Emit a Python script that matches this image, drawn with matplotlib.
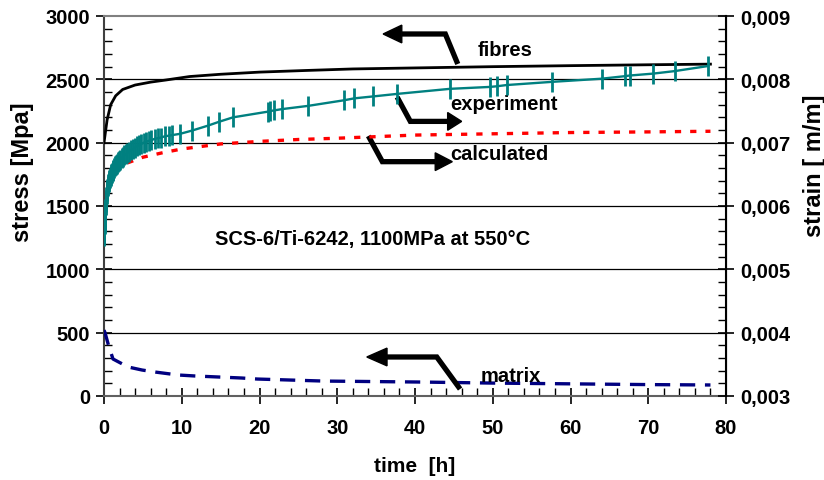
import matplotlib
matplotlib.use("Agg")
import matplotlib.pyplot as plt
from matplotlib.patches import Polygon
from matplotlib.ticker import MultipleLocator, FuncFormatter

plt.rcParams['font.family'] = ['Liberation Sans', 'DejaVu Sans']
plt.rcParams['font.weight'] = 'bold'
plt.rcParams['lines.scale_dashes'] = False

# ---- data ----
fibres_t = [0, 0.4, 0.86, 1.5, 2.4, 4, 6, 8, 11, 15, 20, 26, 32, 40, 50, 60, 70, 78]
fibres_s = [2000, 2180, 2300, 2370, 2420, 2455, 2478, 2495, 2522, 2540, 2557, 2570,
            2582, 2590, 2600, 2608, 2615, 2620]

matrix_t = [0, 0.13, 0.64, 1.16, 3.1, 4.9, 6.6, 9.5, 11.7, 17.7, 19.7, 28.2, 41, 50, 60, 70, 78]
matrix_s = [520, 500, 387, 292, 229, 205, 189, 166, 158, 142, 134, 118, 110, 102, 96, 90, 87]

exp_t = [0, 0.01, 0.02, 0.03, 0.045, 0.06, 0.08, 0.1, 0.12, 0.14, 0.165, 0.19, 0.22,
         0.25, 0.28, 0.32, 0.36, 0.4, 0.45, 0.5, 0.56, 0.62, 0.69, 0.76, 0.84, 0.92,
         1.0, 1.1, 1.2, 1.3, 1.42, 1.55, 1.68, 1.8, 1.95, 2.1, 2.28, 2.45, 2.62, 2.8,
         3.0, 3.2, 3.45, 3.7, 3.95, 4.2, 4.5, 4.8, 5.1, 5.4, 5.75, 6.1, 6.5, 6.9,
         7.3, 7.8, 8.3, 8.8,
         9.8, 11.3, 13.4, 14.8, 16.6, 21.1, 21.4, 21.9, 22.9, 26.2, 30.9, 32.2, 34.6,
         37.7, 44.5, 49.6, 50.5, 51.8, 57.6, 64.0, 67.0, 67.6, 70.6, 73.4, 77.7]
exp_strain = [0.00552, 0.00555, 0.00558, 0.00561, 0.00564, 0.00567, 0.00571, 0.00575,
              0.00580, 0.00585, 0.00590, 0.00596, 0.00601, 0.00606, 0.00610, 0.00615,
              0.00619, 0.00623, 0.00627, 0.00631, 0.00635, 0.00638, 0.00641, 0.00644,
              0.00647, 0.00650, 0.00652, 0.00655, 0.00657, 0.00660, 0.00663, 0.00665,
              0.00667, 0.00669, 0.00671, 0.00673, 0.00676, 0.00678, 0.00680, 0.00682,
              0.00684, 0.00686, 0.00688, 0.00690, 0.00692, 0.00694, 0.00696, 0.00698,
              0.00700, 0.00701, 0.00703, 0.00704, 0.00706, 0.00707, 0.00708, 0.00710,
              0.00711, 0.00712,
              0.00714, 0.00719, 0.00727,
              0.00733, 0.00740, 0.00749, 0.00750, 0.00751, 0.00753, 0.00758, 0.00767,
              0.00770, 0.00773, 0.00777, 0.00785, 0.00788, 0.00789, 0.00791, 0.00796,
              0.00801, 0.00805, 0.00806, 0.00809, 0.00813, 0.00821]

calc_t = [3.0, 5, 7.5, 10, 15, 20, 25, 30, 40, 50, 60, 70, 78]
calc_strain = [0.00668, 0.00677, 0.00684, 0.00690, 0.00698, 0.00702, 0.00705, 0.00707,
               0.00712, 0.00714, 0.00716, 0.00717, 0.00718]

x_ticks = [0, 10, 20, 30, 40, 50, 60, 70, 80]
stress_ticks = [0, 500, 1000, 1500, 2000, 2500, 3000]
strain_ticks = [0.003, 0.004, 0.005, 0.006, 0.007, 0.008, 0.009]

# ---- figure ----
fig = plt.figure(figsize=(8.24, 4.81), dpi=100)
ax = fig.add_axes([104/824, 1-397/481, (726-104)/824, (397-17)/481])
ax2 = ax.twinx()

ax.set_xlim(0, 80)
ax.set_ylim(0, 3000)
ax2.set_ylim(0.003, 0.009)

for y in stress_ticks[1:-1]:
    ax.axhline(y, color='black', lw=0.9, zorder=0.5)

ax.plot(fibres_t, fibres_s, color='black', lw=2.0, zorder=3)
ax.plot(matrix_t, matrix_s, color='#000080', lw=2.4, dashes=(11, 7), zorder=3)
ax2.plot(calc_t, calc_strain, color='#FF0000', lw=2.4, dashes=(4.5, 6.5), zorder=3)
ax2.plot(exp_t, exp_strain, color='#008080', lw=1.7, marker='|', ms=15, mew=2.0, zorder=4)

# arrows (annotation shapes in stress-axis data coords)
def arrow(pts, tip):
    xs = [p[0] for p in pts]
    ys = [p[1] for p in pts]
    ax.plot(xs, ys, color='black', lw=3.8, solid_capstyle='butt',
            solid_joinstyle='miter', zorder=5, clip_on=False)
    bx, by = pts[-1]
    W = 70
    head = Polygon([[tip[0], tip[1]], [bx, by + W], [bx, by - W]],
                   closed=True, color='black', zorder=5, clip_on=False)
    ax.add_patch(head)

arrow([(45.5, 2621), (43.9, 2858), (38.3, 2858)], (35.9, 2858))
arrow([(37.7, 2360), (39.4, 2168), (44.2, 2168)], (46.0, 2168))
arrow([(34.0, 2053), (35.8, 1850), (42.6, 1850)], (44.8, 1850))
arrow([(45.8, 55), (42.8, 308), (36.4, 308)], (33.8, 308))

fs = 14.5
ax.text(505/824, 1-50/481, 'fibres', transform=fig.transFigure, ha='center', va='center', fontsize=fs, fontweight='bold')
ax.text(450/824, 1-104/481, 'experiment', transform=fig.transFigure, ha='left', va='center', fontsize=fs, fontweight='bold')
ax.text(450/824, 1-154/481, 'calculated', transform=fig.transFigure, ha='left', va='center', fontsize=fs, fontweight='bold')
ax.text(481/824, 1-376/481, 'matrix', transform=fig.transFigure, ha='left', va='center', fontsize=fs, fontweight='bold')
ax.text(373/824, 1-240/481, 'SCS-6/Ti-6242, 1100MPa at 550°C', transform=fig.transFigure,
        ha='center', va='center', fontsize=fs, fontweight='bold')

# ticks
ax.set_xticks(x_ticks)
ax.xaxis.set_minor_locator(MultipleLocator(2))
ax.set_yticks(stress_ticks)
ax.yaxis.set_minor_locator(MultipleLocator(100))
ax2.set_yticks(strain_ticks)
ax2.yaxis.set_minor_locator(MultipleLocator(0.0002))
ax2.yaxis.set_major_formatter(FuncFormatter(lambda v, p: f'{v:.3f}'.replace('.', ',')))

ax.tick_params(axis='both', which='major', direction='inout', length=12, width=1.2,
               labelsize=14.5, pad=4)
ax.tick_params(axis='x', which='major', pad=10)
ax.tick_params(axis='both', which='minor', direction='in', length=6, width=1)
ax2.tick_params(axis='y', which='major', direction='inout', length=12, width=1.2,
                labelsize=14.5, pad=4)
ax2.tick_params(axis='y', which='minor', direction='in', length=6, width=1)
for lab in ax.get_xticklabels() + ax.get_yticklabels() + ax2.get_yticklabels():
    lab.set_fontweight('bold')

ax.spines['top'].set_color('#808080')
ax.spines['top'].set_linewidth(1.5)
ax.spines['bottom'].set_color('#606060')
ax.spines['bottom'].set_linewidth(1.5)
ax.spines['left'].set_color('#404040')
ax.spines['left'].set_linewidth(1.5)
ax2.spines['right'].set_color('black')
ax2.spines['right'].set_linewidth(1.5)
ax2.spines['top'].set_visible(False)
ax2.spines['left'].set_visible(False)
ax2.spines['bottom'].set_visible(False)

fig.text(23/824, 1-172/481, 'stress [Mpa]', rotation=90, ha='center', va='center', fontsize=17, fontweight='bold')
fig.text(814/824, 1-166/481, 'strain [ m/m]', rotation=90, ha='center', va='center', fontsize=17, fontweight='bold')
fig.text(415/824, 1-467/481, 'time  [h]', ha='center', va='center', fontsize=15, fontweight='bold')

fig.savefig('out.png', dpi=100)
